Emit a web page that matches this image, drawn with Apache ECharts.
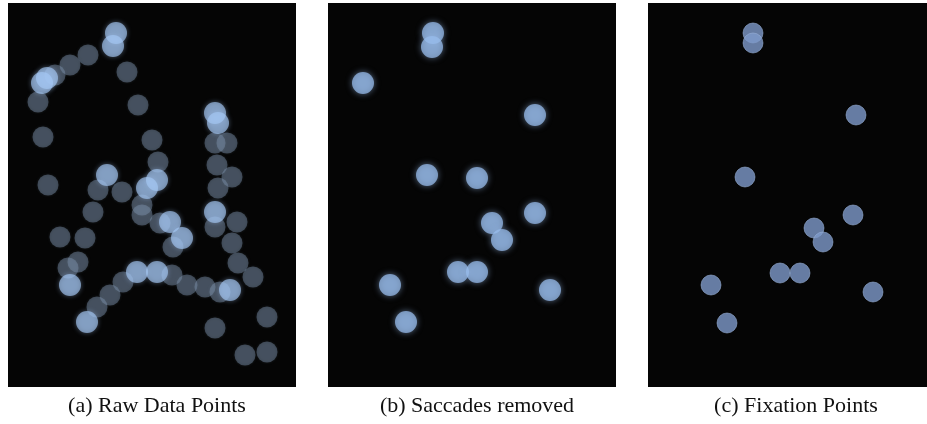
<!DOCTYPE html>
<html>
<head>
<meta charset="utf-8">
<script src="https://cdn.jsdelivr.net/npm/echarts@6/dist/echarts.min.js"></script>
<style>html,body{margin:0;padding:0;background:#fff}#c{width:927px;height:424px}</style>
</head>
<body>
<div id="c"></div>
<script>
// Panel-local coordinates (x right, y down), panels are 288 x 384 units
var panelTitles = ['(a) Raw Data Points', '(b) Saccades removed', '(c) Fixation Points'];

// (a) raw gaze samples: faint samples (saccade) and dense bright samples (fixation)
var rawFaint = [
  [80,52],[62,62],[47,72],[30,99],[119,69],[130,102],[35,134],[144,137],[150,159],
  [207,140],[219,140],[209,162],[224,174],[210,185],[40,182],[90,187],[114,189],
  [134,202],[134,212],[85,209],[152,220],[165,244],[207,224],[229,219],[224,240],
  [230,260],[52,234],[77,235],[70,259],[60,265],[115,279],[102,292],[89,304],
  [164,272],[179,282],[197,284],[212,289],[245,274],[207,325],[259,314],[237,352],[259,349]
];
var rawBright = [
  [108,30],[105,43],[34,80],[39,75],[207,110],[210,120],[99,172],[139,185],[149,177],
  [162,219],[174,235],[207,209],[62,282],[129,269],[149,269],[222,287],[79,319]
];
// (b) samples remaining after saccade removal
var saccadesRemoved = [
  [105,30],[104,44],[35,80],[207,112],[99,172],[149,175],[207,210],[164,220],
  [174,237],[130,269],[149,269],[62,282],[222,287],[78,319]
];
// (c) fixation points
var fixations = [
  [105,30],[105,40],[208,112],[97,174],[205,212],[166,225],[175,239],[132,270],
  [152,270],[63,282],[225,289],[79,320]
];

var lefts = [8, 328, 648];
var widths = [288, 288, 279]; // third panel is cut by the page edge
var grids = [], xAxes = [], yAxes = [];
lefts.forEach(function (l, i) {
  grids.push({left: l, top: 3, width: widths[i], height: 384, show: true,
    backgroundColor: '#050505', borderWidth: 0});
  xAxes.push({gridIndex: i, type: 'value', min: 0, max: widths[i], show: false});
  yAxes.push({gridIndex: i, type: 'value', min: 0, max: 384, inverse: true, show: false});
});

var series = [
  {type: 'scatter', xAxisIndex: 0, yAxisIndex: 0, data: rawFaint, symbolSize: 21,
    itemStyle: {color: 'rgba(125,145,172,0.55)', shadowBlur: 3, shadowColor: 'rgba(125,145,172,0.4)'}},
  {type: 'scatter', xAxisIndex: 0, yAxisIndex: 0, data: rawBright, symbolSize: 22,
    itemStyle: {color: 'rgba(165,200,245,0.82)', shadowBlur: 5, shadowColor: 'rgba(165,200,245,0.6)'}},
  {type: 'scatter', xAxisIndex: 1, yAxisIndex: 1, data: saccadesRemoved, symbolSize: 22,
    itemStyle: {color: 'rgba(152,188,236,0.92)', shadowBlur: 6, shadowColor: 'rgba(152,188,236,0.7)'}},
  {type: 'scatter', xAxisIndex: 2, yAxisIndex: 2, data: fixations, symbolSize: 20,
    itemStyle: {color: 'rgb(126,154,202)', borderColor: 'rgba(155,180,220,0.7)', borderWidth: 1}}
];

var centers = [152, 472, 791];
var titles = panelTitles.map(function (t, i) {
  return {text: t, left: centers[i], top: 390, textAlign: 'center',
    textStyle: {fontFamily: 'Liberation Serif, DejaVu Serif, serif', fontWeight: 'normal',
      fontSize: 22, color: '#111'}};
});

var chart = echarts.init(document.getElementById('c'), null, {renderer: 'canvas'});
chart.setOption({
  animation: false,
  backgroundColor: '#ffffff',
  title: titles,
  grid: grids,
  xAxis: xAxes,
  yAxis: yAxes,
  series: series
});
</script>
</body>
</html>
